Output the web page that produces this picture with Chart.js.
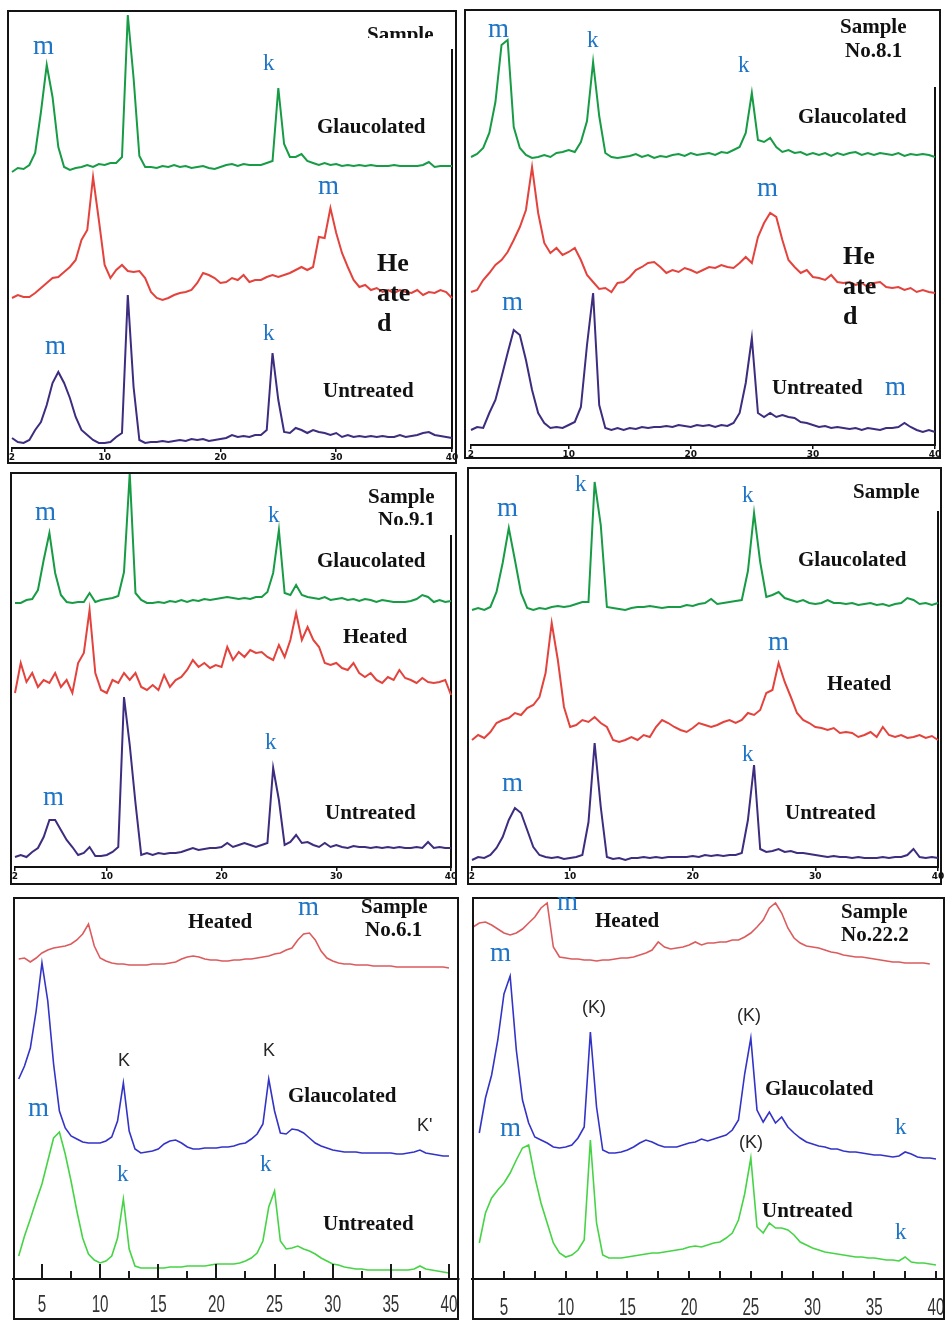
<!DOCTYPE html>
<html>
<head>
<meta charset="utf-8">
<title>XRD patterns – untreated, glycolated, heated</title>
<script src="https://cdn.jsdelivr.net/npm/chart.js@4.4.1/dist/chart.umd.min.js"></script>
<style>
html,body{margin:0;padding:0;background:#fff}
body{position:relative;width:945px;height:1321px;overflow:hidden}
canvas{position:absolute}
.box{position:absolute;border:2px solid #141414;box-sizing:border-box}
.lab{position:absolute;white-space:nowrap;line-height:1}
.clip{position:absolute;overflow:hidden}
</style>
</head>
<body>
<script>
// ---------- 2-theta grids ----------
const X_A = [2,2.5,3,3.5,4,4.5,5,5.5,6,6.5, 7,7.5,8,8.5,9,9.5,10,10.5,11,11.5,
  12,12.5,13,13.5,14,14.5,15,15.5,16,16.5, 17,17.5,18,18.5,19,19.5,20,20.5,21,21.5,
  22,22.5,23,23.5,24,24.5,25,25.5,26,26.5, 27,27.5,28,28.5,29,29.5,30,30.5,31,31.5,
  32,32.5,33,33.5,34,34.5,35,35.5,36,36.5, 37,37.5,38,38.5,39,39.5,40];
const X_B = [2.5,3,3.5,4,4.5,5,5.5,6,6.5,7, 7.5,8,8.5,9,9.5,10,10.5,11,11.5,12,
  12.5,13,13.5,14,14.5,15,15.5,16,16.5,17, 17.5,18,18.5,19,19.5,20,20.5,21,21.5,22,
  22.5,23,23.5,24,24.5,25,25.5,26,26.5,27, 27.5,28,28.5,29,29.5,30,30.5,31,31.5,32,
  32.5,33,33.5,34,34.5,35,35.5,36,36.5,37, 37.5,38,38.5,39,39.5,40];
const TICKS_A = [2,10,20,30,40];
const TICKS_B = [5,10,15,20,25,30,35,40];
const MINOR_B = [7.5,12.5,17.5,22.5,27.5,32.5,37.5];
const SERIES = ['Glaucolated','Heated','Untreated'];

// ---------- intensities (a.u.) ----------
// Panel 1 (Sample, top-left)
const P1_GLAUC = [276,280,279,283,295,336,383,351,301,281, 278,280,281,283,281,284,283,285,285,291,
  433,370,292,281,281,280,282,281,283,281, 282,280,281,282,280,279,281,283,284,282,
  284,283,283,283,285,287,360,304,291,291, 294,287,285,283,285,283,284,282,283,282,
  283,282,283,282,282,282,283,282,282,282, 282,283,286,281,282,282,282];
const P1_HEATED = [150,153,151,151,155,160,165,170,171,176, 181,188,208,218,271,228,183,170,178,183,
  177,176,177,170,156,150,148,150,153,155, 156,158,165,175,173,170,165,166,170,168,
  173,166,168,168,171,173,171,173,175,178, 181,178,181,211,210,240,215,195,181,168,
  161,163,158,160,156,158,155,158,156,155, 158,153,156,155,158,156,150];
const P1_UNTREATED = [10,6,5,8,18,26,43,65,76,65, 50,31,18,13,8,5,5,6,11,15,
  153,61,8,5,6,6,7,6,7,8, 7,9,8,9,7,8,9,10,13,11,
  12,11,13,13,18,95,48,16,15,20, 18,15,18,16,15,13,15,11,13,11,
  12,11,12,11,12,11,11,13,11,12, 13,15,16,13,12,11,10];
// Panel 2 (Sample No.8.1)
const P2_GLAUC = [288,291,297,312,343,400,405,318,297,290, 287,288,290,288,292,293,295,293,303,324,
  383,329,292,288,287,288,289,291,288,290, 287,289,288,290,291,289,292,290,291,292,
  290,293,292,295,298,312,352,305,303,307, 298,293,295,292,293,290,292,290,292,289,
  292,290,292,293,290,292,290,292,291,290, 292,289,291,290,291,290,288];
const P2_HEATED = [153,155,165,172,180,185,193,205,218,235, 278,232,202,192,197,190,193,197,185,170,
  163,156,157,153,162,163,168,175,178,182, 183,178,172,175,173,177,175,172,175,178,
  177,180,178,177,182,188,182,208,222,232, 228,205,185,178,172,175,168,167,165,170,
  163,162,163,160,162,158,162,163,158,157, 158,155,157,153,155,153,152];
const P2_UNTREATED = [15,18,17,32,45,68,92,115,110,85, 55,32,22,17,18,17,20,23,38,100,
  152,40,17,15,17,15,17,16,18,17, 18,18,19,18,20,19,18,20,19,20,
  18,20,19,22,32,62,107,32,28,32, 28,30,28,27,23,22,20,18,19,17,
  18,17,16,17,15,17,16,15,17,17, 18,22,18,15,13,15,13];
// Panel 3 (Sample No.9.1)
const P3_GLAUC = [264,264,267,268,277,307,334,294,272,265, 264,265,265,274,265,267,268,269,271,295,
  394,274,267,264,264,265,264,266,265,267, 265,267,266,268,267,268,269,270,269,268,
  269,268,270,270,275,294,337,274,272,282, 272,270,269,268,270,267,268,269,267,268,
  266,268,267,265,267,266,265,265,265,266, 268,272,270,265,267,265,266];
const P3_HEATED = [174,204,185,194,180,187,184,194,180,187, 174,204,214,257,194,177,174,187,184,194,
  187,194,180,177,182,177,192,180,187,190, 197,207,200,204,199,202,200,220,207,215,
  210,217,214,215,210,207,222,210,227,254, 227,240,227,220,204,202,204,199,197,204,
  194,190,194,187,184,190,187,197,189,187, 184,189,185,184,185,187,172];
const P3_UNTREATED = [10,12,10,15,19,30,47,47,37,27, 20,12,14,20,11,11,12,15,20,170,
  122,64,12,14,12,14,13,14,14,15, 17,19,17,18,19,19,20,24,20,22,
  24,22,20,22,24,99,67,22,25,32, 24,25,22,20,24,20,22,20,19,21,
  20,20,19,20,19,20,19,20,19,19, 20,19,25,19,20,19,19];
// Panel 4 (Sample, mid-right)
const P4_GLAUC = [257,259,257,260,275,304,339,307,274,259, 257,259,258,260,261,260,261,263,265,265,
  385,342,260,259,258,257,259,260,260,261, 260,259,260,260,260,262,261,263,264,268,
  263,264,265,266,267,296,354,305,270,272, 275,269,267,265,267,264,263,264,267,264,
  264,263,264,262,263,264,262,263,261,263, 264,269,267,263,264,262,264];
const P4_HEATED = [127,132,129,135,144,147,149,154,152,159, 162,170,194,244,207,160,140,142,147,145,
  150,144,140,127,125,127,130,127,132,130, 140,147,144,140,137,135,139,144,142,140,
  142,145,147,144,147,154,152,157,174,177, 204,185,170,154,147,144,140,139,137,139,
  134,135,134,130,132,135,130,140,132,130, 132,129,130,132,129,131,127];
const P4_UNTREATED = [7,10,9,12,19,30,47,59,54,37, 20,12,10,9,10,8,9,10,12,45,
  124,60,10,8,9,7,9,9,10,9, 10,9,10,10,10,10,11,10,12,11,
  12,11,12,12,14,47,102,18,15,16, 18,15,16,14,14,13,12,11,10,11,
  10,10,9,10,9,9,9,10,9,10, 10,12,18,10,9,10,9];
// Panel 5 (Sample No.6.1)
const P5_HEATED = [null,320,321,317,321,326,329,331,332,333, 335,339,345,355,333,321,318,316,315,315,
  314,314,314,314,315,315,315,316,317,320, 322,323,322,320,319,319,318,318,319,319,
  320,320,321,322,323,325,326,329,331,339, 345,346,339,328,321,318,316,315,315,314,
  314,314,313,313,313,313,312,312,312,312, 312,312,312,312,312,311];
const P5_GLAUC = [null,200,213,231,268,316,278,215,168,151, 143,140,137,136,136,136,138,142,158,196,
  148,130,126,127,128,130,135,138,139,136, 132,130,130,131,131,131,132,132,133,135,
  136,140,145,155,200,168,146,145,150,149, 146,141,136,133,131,129,128,127,127,127,
  126,126,126,126,126,126,125,125,126,127, 129,126,125,124,123,123];
const P5_UNTREATED = [null,23,43,60,78,95,118,141,147,125, 98,68,41,25,19,16,18,23,41,80,
  30,13,11,11,11,11,11,12,12,12, 13,13,13,13,14,15,15,15,15,16,
  18,21,26,38,72,88,38,30,31,33, 30,28,25,21,18,15,14,12,11,10,
  10,9,9,9,9,9,9,9,9,10, 13,10,9,8,7,6];
// Panel 6 (Sample No.22.2)
const P6_HEATED = [352,356,357,354,350,346,344,346,350,356, 362,371,376,332,322,321,320,320,319,319,
  318,319,319,320,321,321,322,324,326,329, 337,332,330,331,332,334,337,334,336,336,
  337,337,339,339,342,346,352,359,371,376, 366,351,341,336,333,332,331,329,327,326,
  324,323,322,322,321,320,319,318,317,317, 316,316,316,316,315,null];
const P6_GLAUC = [null,146,181,204,239,285,303,229,179,156, 142,139,136,132,131,132,134,141,152,247,
  172,129,126,126,127,129,132,136,139,137, 134,132,132,132,134,136,137,140,138,140,
  142,144,149,159,205,241,169,157,167,156, 162,152,146,141,137,135,133,132,130,130,
  128,127,127,126,125,124,124,123,122,123, 127,125,122,121,121,120];
const P6_UNTREATED = [null,36,66,81,89,96,106,119,131,134, 102,76,56,36,26,22,24,29,39,139,
  56,24,21,21,21,22,23,24,25,26, 26,27,28,29,30,32,33,32,34,36,
  37,41,46,59,85,121,52,46,56,51, 51,49,44,37,34,31,29,27,26,25,
  24,23,22,22,21,21,20,19,19,18, 22,17,16,16,15,14];

// ---------- styling ----------
const COL_A = {g:'#179c45', h:'#e4433d', u:'#3e2c7f'};
const COL_B = {h:'#dc5b5d', g:'#3333c8', u:'#46d446'};

const PANELS = [
  {box:[7,10,450,454],  L:12,  R:452, T:50,  B:448,  ymax:398, xs:X_A, xmin:2, xmax:40, kind:'A',
   series:[[P1_GLAUC,COL_A.g,SERIES[0]],[P1_HEATED,COL_A.h,SERIES[1]],[P1_UNTREATED,COL_A.u,SERIES[2]]]},
  {box:[464,9,477,450], L:471, R:935, T:88,  B:445,  ymax:357, xs:X_A, xmin:2, xmax:40, kind:'A',
   series:[[P2_GLAUC,COL_A.g,SERIES[0]],[P2_HEATED,COL_A.h,SERIES[1]],[P2_UNTREATED,COL_A.u,SERIES[2]]]},
  {box:[10,472,447,413],L:15,  R:451, T:536, B:867,  ymax:331, xs:X_A, xmin:2, xmax:40, kind:'A',
   series:[[P3_GLAUC,COL_A.g,SERIES[0]],[P3_HEATED,COL_A.h,SERIES[1]],[P3_UNTREATED,COL_A.u,SERIES[2]]]},
  {box:[467,467,475,418],L:472,R:938, T:512, B:867,  ymax:355, xs:X_A, xmin:2, xmax:40, kind:'A',
   series:[[P4_GLAUC,COL_A.g,SERIES[0]],[P4_HEATED,COL_A.h,SERIES[1]],[P4_UNTREATED,COL_A.u,SERIES[2]]]},
  {box:[13,897,446,423],L:13,  R:459, T:899, B:1279, ymax:380, xs:X_B, xmin:2.51, xmax:40.86, kind:'B', tickLen:[15,8], labelDy:33,
   series:[[P5_HEATED,COL_B.h,SERIES[1]],[P5_GLAUC,COL_B.g,SERIES[0]],[P5_UNTREATED,COL_B.u,SERIES[2]]]},
  {box:[472,897,473,423],L:472,R:944, T:899, B:1279, ymax:380, xs:X_B, xmin:2.41, xmax:40.65, kind:'B', tickLen:[8,8], labelDy:36,
   series:[[P6_HEATED,COL_B.h,SERIES[1]],[P6_GLAUC,COL_B.g,SERIES[0]],[P6_UNTREATED,COL_B.u,SERIES[2]]]}
];

// ticks pointing up into the plot and condensed tick labels (bottom panels)
const upTicks = {
  id:'upTicks',
  afterDraw(chart, args, o){
    if(!o || !o.major) return;
    const sx = chart.scales.x, ctx = chart.ctx, y0 = chart.chartArea.bottom;
    ctx.save(); ctx.strokeStyle = '#1a1a1a'; ctx.lineWidth = 2;
    const draw = (vals, len) => vals.forEach(v => {
      const px = Math.round(sx.getPixelForValue(v));
      ctx.beginPath(); ctx.moveTo(px, y0); ctx.lineTo(px, y0 - len); ctx.stroke();
    });
    draw(o.major, o.majorLen); draw(o.minor, o.minorLen);
    // tick labels taken from the scale's own ticks, drawn horizontally condensed
    ctx.fillStyle = '#333';
    ctx.font = '23px "Liberation Sans", Arial, sans-serif';
    ctx.textAlign = 'center'; ctx.textBaseline = 'alphabetic';
    sx.ticks.forEach(t => {
      const px = sx.getPixelForValue(t.value);
      ctx.save();
      ctx.translate(px, y0 + o.labelDy);
      ctx.scale(0.66, 1);
      ctx.fillText(t.label !== undefined ? String(t.label) : String(t.value), 0, 0);
      ctx.restore();
    });
    ctx.restore();
  }
};

function build(p){
  const isA = p.kind === 'A';
  const axisH = isA ? 14 : 42;
  const cx = p.L - 16, cy = p.box[1], cw = p.R - p.L + 32, ch = p.B - cy + axisH + 4;
  const cv = document.createElement('canvas');
  cv.width = cw; cv.height = ch;
  cv.style.left = cx + 'px'; cv.style.top = cy + 'px';
  cv.style.width = cw + 'px'; cv.style.height = ch + 'px';
  document.body.appendChild(cv);
  const datasets = p.series.map(([ys, col, name]) => ({
    label: name,
    data: p.xs.map((x, i) => ({x: x, y: ys[i]})),
    borderColor: col, borderWidth: isA ? 2 : 1.6,
    pointRadius: 0, tension: 0, clip: false, fill: false
  }));
  new Chart(cv, {
    type: 'line',
    data: {datasets},
    options: {
      responsive: false, animation: false, events: [],
      layout: {padding: {left: 16, right: 16, top: p.T - cy, bottom: 4}},
      plugins: {
        legend: {display: false}, tooltip: {enabled: false},
        upTicks: isA ? false : {major: TICKS_B, minor: MINOR_B, majorLen: p.tickLen[0], minorLen: p.tickLen[1], labelDy: p.labelDy}
      },
      scales: {
        x: {
          type: 'linear', min: p.xmin, max: p.xmax,
          afterFit: s => { s.height = axisH; },
          afterBuildTicks: s => { s.ticks = (isA ? TICKS_A : TICKS_B).map(v => ({value: v})); },
          grid: {display: true, drawOnChartArea: false, drawTicks: isA, tickLength: 4, color: '#111', lineWidth: 1.5},
          border: {display: true, color: '#111', width: 2},
          ticks: {
            display: isA,
            autoSkip: false, maxRotation: 0, minRotation: 0,
            color: '#111', padding: 0,
            font: {family: '"DejaVu Sans", sans-serif', size: 9, weight: 'bold'}
          }
        },
        y: {
          min: 0, max: p.ymax, position: 'right', display: isA,
          afterFit: s => { s.width = 0; },
          ticks: {display: false},
          grid: {display: false, drawTicks: false},
          border: {display: true, color: '#111', width: 2}
        }
      }
    },
    plugins: [upTicks]
  });
}
PANELS.forEach(build);

// frames
PANELS.forEach(p => {
  const d = document.createElement('div'); d.className = 'box';
  d.style.left = p.box[0] + 'px'; d.style.top = p.box[1] + 'px';
  d.style.width = p.box[2] + 'px'; d.style.height = p.box[3] + 'px';
  document.body.appendChild(d);
});

// ---------- annotations ----------
const SERIF = '"Liberation Serif", "Times New Roman", serif';
const SANS = '"Liberation Sans", Arial, sans-serif';
const STYLES = {
  B: {family: SERIF, size: 21, weight: 'bold',   color: '#111',    k: 0.8375},
  H: {family: SERIF, size: 26, weight: 'bold',   color: '#111',    k: 0.8375},
  M: {family: SERIF, size: 27, weight: 'normal', color: '#1e74c6', k: 0.8375},
  K: {family: SERIF, size: 23, weight: 'normal', color: '#1e74c6', k: 0.8375},
  S: {family: SANS,  size: 18, weight: 'normal', color: '#262626', k: 0.8465}
};
const LABELS = [
  // panel 1
  ['Sample',367,42,'B',38], ['m',33,55,'M'], ['k',263,70,'K'], ['Glaucolated',317,134,'B'],
  ['m',318,195,'M'], ['He',377,272,'H'], ['ate',377,302,'H'], ['d',377,332,'H'],
  ['k',263,340,'K'], ['m',45,355,'M'], ['Untreated',323,398,'B'],
  // panel 2
  ['m',488,38,'M'], ['k',587,47,'K'], ['Sample',840,34,'B'], ['No.8.1',845,58,'B'], ['k',738,72,'K'],
  ['Glaucolated',798,124,'B'], ['m',757,197,'M'], ['He',843,265,'H'], ['ate',843,295,'H'], ['d',843,325,'H'],
  ['m',502,311,'M'], ['Untreated',772,395,'B'], ['m',885,396,'M'],
  // panel 3
  ['m',35,521,'M'], ['k',268,522,'K'], ['Sample',368,504,'B'], ['No.9.1',378,527,'B',525],
  ['Glaucolated',317,568,'B'], ['Heated',343,644,'B'], ['k',265,749,'K'], ['m',43,806,'M'], ['Untreated',325,820,'B'],
  // panel 4
  ['k',575,491,'K'], ['m',497,517,'M'], ['k',742,502,'K'], ['Sample',853,499,'B',499],
  ['Glaucolated',798,567,'B'], ['m',768,651,'M'], ['Heated',827,691,'B'], ['k',742,761,'K'],
  ['m',502,792,'M'], ['Untreated',785,820,'B'],
  // panel 5
  ['Heated',188,929,'B'], ['m',298,916,'M'], ['Sample',361,914,'B'], ['No.6.1',365,937,'B'],
  ['K',118,1066,'S'], ['K',263,1056,'S'], ['Glaucolated',288,1103,'B'], ['m',28,1117,'M'],
  ["K'",417,1131,'S'], ['k',117,1181,'K'], ['k',260,1171,'K'], ['Untreated',323,1231,'B'],
  // panel 6
  ['m',557,911,'M'], ['Heated',595,928,'B'], ['Sample',841,919,'B'], ['No.22.2',841,942,'B'],
  ['m',490,962,'M'], ['(K)',582,1013,'S'], ['(K)',737,1021,'S'], ['Glaucolated',765,1096,'B'],
  ['k',895,1134,'K'], ['m',500,1137,'M'], ['(K)',739,1148,'S'], ['Untreated',762,1218,'B'], ['k',895,1239,'K']
];
LABELS.forEach(([text, x, base, st, clipY]) => {
  const s = STYLES[st];
  const top = base - s.k * s.size;
  const d = document.createElement('div');
  d.className = 'lab'; d.textContent = text;
  d.style.fontFamily = s.family; d.style.fontSize = s.size + 'px';
  d.style.fontWeight = s.weight; d.style.color = s.color; d.style.lineHeight = '1';
  if (clipY !== undefined) {
    const w = document.createElement('div'); w.className = 'clip';
    w.style.left = x + 'px'; w.style.top = top + 'px';
    w.style.width = '120px'; w.style.height = Math.max(0, clipY - top) + 'px';
    d.style.left = '0px'; d.style.top = '0px';
    w.appendChild(d); document.body.appendChild(w);
  } else {
    d.style.left = x + 'px'; d.style.top = top + 'px';
    document.body.appendChild(d);
  }
});
</script>
</body>
</html>
